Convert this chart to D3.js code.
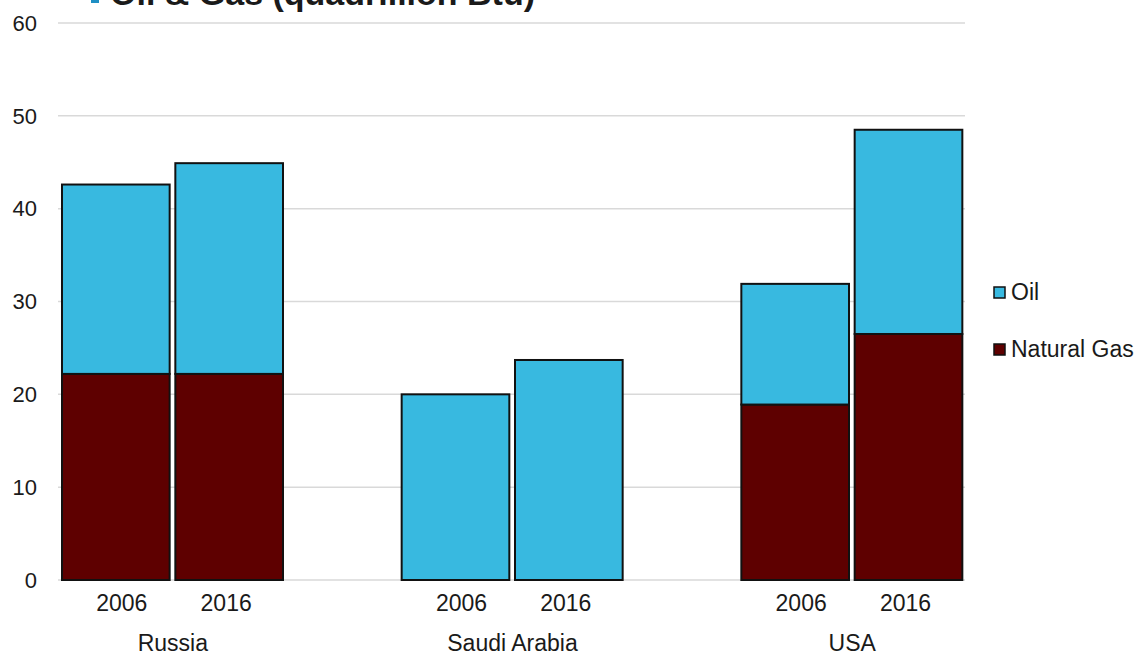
<!DOCTYPE html>
<html>
<head>
<meta charset="utf-8">
<script src="https://cdn.jsdelivr.net/npm/d3@7"></script>
<style>
  body { margin: 0; background: #fff; }
  text { font-family: "Liberation Sans", Arial, sans-serif; fill: #1a1a1a; }
</style>
</head>
<body>
<div id="chart"></div>
<script>
// data (quadrillion Btu)
var countries = ["Russia", "Saudi Arabia", "USA"];
var years = ["2006", "2016"];
var gasValues = [22.2, 22.2, 0, 0, 18.9, 26.5];
var oilValues = [20.4, 22.7, 20.0, 23.7, 13.0, 22.0];
var yTicks = [0, 10, 20, 30, 40, 50, 60];
var seriesNames = ["Oil", "Natural Gas"];

var width = 1143,
	height = 655,
	oilColor = "#38b9e0",
	gasColor = "#5e0000";

var rows = [];
countries.forEach(function (c, i) {
	years.forEach(function (y, j) {
		var k = i * years.length + j;
		rows.push({country: c, year: y, gas: gasValues[k], oil: oilValues[k]});
	});
});

var svg = d3.select("#chart")
	.append("svg")
	.attr("width", width)
	.attr("height", height);

var y = d3.scaleLinear().domain([0, 60]).range([580, 23]);
var x0 = d3.scaleBand().domain(countries).range([3, 1022]);
var x1 = d3.scaleBand().domain(years).range([59, 280]).paddingInner(0.05);

// title, cut off at the top edge
svg.append("rect")
	.attr("x", 91).attr("y", -5)
	.attr("width", 8).attr("height", 8)
	.attr("fill", "#1f8fc4");
svg.append("text")
	.attr("x", 110).attr("y", 5)
	.attr("font-size", "34px")
	.attr("font-weight", "bold")
	.text("Oil & Gas (quadrillion Btu)");

// gridlines
svg.append("g").selectAll("line")
	.data(yTicks)
	.enter()
	.append("line")
	.attr("x1", 58).attr("x2", 965)
	.attr("y1", d => y(d)).attr("y2", d => y(d))
	.attr("stroke", "#d9d9d9")
	.attr("stroke-width", 1.5);

// y axis labels
svg.append("g").selectAll("text")
	.data(yTicks)
	.enter()
	.append("text")
	.attr("x", 37)
	.attr("y", d => y(d))
	.attr("dy", "0.35em")
	.attr("text-anchor", "end")
	.attr("font-size", "22px")
	.text(d => d);

// stacked bars
var stack = d3.stack().keys(["gas", "oil"]);
var layers = stack(rows);

svg.append("g").selectAll("g")
	.data(layers)
	.enter()
	.append("g")
	.attr("fill", d => d.key === "oil" ? oilColor : gasColor)
	.selectAll("rect")
	.data(d => d.filter(s => s[1] - s[0] > 0))
	.enter()
	.append("rect")
	.attr("x", d => x0(d.data.country) + x1(d.data.year))
	.attr("width", x1.bandwidth())
	.attr("y", d => y(d[1]))
	.attr("height", d => y(d[0]) - y(d[1]))
	.attr("stroke", "#111")
	.attr("stroke-width", 2);

// year labels
svg.append("g").selectAll("text")
	.data(rows)
	.enter()
	.append("text")
	.attr("x", d => x0(d.country) + x1(d.year) + x1.bandwidth() / 2 + (d.year === "2006" ? 6 : -3))
	.attr("y", 611)
	.attr("text-anchor", "middle")
	.attr("font-size", "23px")
	.text(d => d.year);

// country labels
svg.append("g").selectAll("text")
	.data(countries)
	.enter()
	.append("text")
	.attr("x", d => x0(d) + x0.bandwidth() / 2)
	.attr("y", 651)
	.attr("text-anchor", "middle")
	.attr("font-size", "23px")
	.text(d => d);

// legend
var legend = svg.append("g").selectAll("g")
	.data(seriesNames)
	.enter()
	.append("g")
	.attr("transform", (d, i) => "translate(994," + (287 + i * 57) + ")");

legend.append("rect")
	.attr("width", 11).attr("height", 11)
	.attr("fill", (d, i) => i === 0 ? oilColor : gasColor)
	.attr("stroke", "#111")
	.attr("stroke-width", 1.5);

legend.append("text")
	.attr("x", 17)
	.attr("y", 5)
	.attr("dy", "0.35em")
	.attr("font-size", "23px")
	.text(d => d);
</script>
</body>
</html>
